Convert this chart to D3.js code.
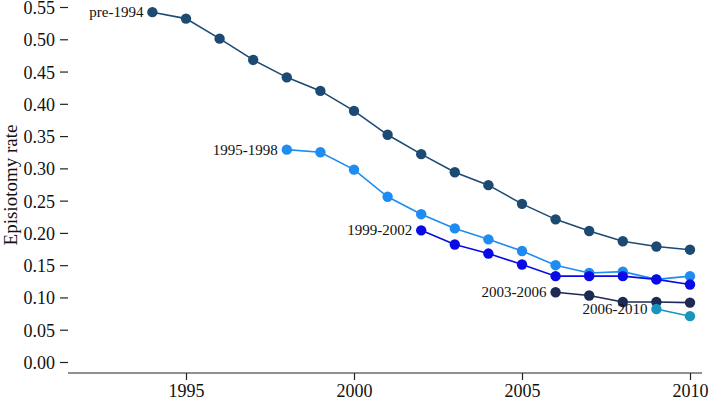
<!DOCTYPE html>
<html><head><meta charset="utf-8">
<script src="https://cdn.jsdelivr.net/npm/d3@7"></script>
<style>body{margin:0;background:#fff}svg{display:block;font-family:"Liberation Serif","Times New Roman",serif}</style>
</head><body><svg id="c" width="709" height="404"></svg>
<script>
const years = [1994,1995,1996,1997,1998,1999,2000,2001,2002,2003,2004,2005,2006,2007,2008,2009,2010];
const cohorts = ["pre-1994","1995-1998","1999-2002","2003-2006","2006-2010"];
const startYears = [1994,1998,2002,2006,2009];
const pre1994 = [0.542,0.532,0.501,0.468,0.441,0.420,0.389,0.352,0.322,0.294,0.274,0.245,0.221,0.203,0.187,0.179,0.174];
const c1995_1998 = [0.329,0.325,0.298,0.256,0.229,0.207,0.190,0.172,0.150,0.138,0.140,0.128,0.133];
const c1999_2002 = [0.204,0.182,0.168,0.151,0.133,0.133,0.133,0.128,0.120];
const c2003_2006 = [0.108,0.103,0.093,0.093,0.092];
const c2006_2010 = [0.082,0.071];
const seriesValues = [pre1994,c1995_1998,c1999_2002,c2003_2006,c2006_2010];
const colors = ["#1d4a73","#1e8cf0","#0a0ae6","#1c2a55","#1895bd"];
const yTicks = [0,0.05,0.10,0.15,0.20,0.25,0.30,0.35,0.40,0.45,0.50,0.55];
const xTicks = [1995,2000,2005,2010];

const svg = d3.select("#c");
const x = d3.scaleLinear().domain([1995,2010]).range([186,690]);
const y = d3.scaleLinear().domain([0,0.55]).range([362,7]);

// x axis
const xa = svg.append("g").attr("transform","translate(0,373)");
xa.append("line").attr("x1",68).attr("x2",702).attr("stroke","#222").attr("stroke-width",1.2);
const xg = xa.append("g").call(d3.axisBottom(x).tickValues(xTicks).tickFormat(d3.format("d")).tickSize(7).tickPadding(4));
xg.select(".domain").remove();
xg.selectAll("line").attr("stroke","#222").attr("stroke-width",1.2);
xg.selectAll("text").attr("font-size",18).attr("font-family","Liberation Serif").attr("fill","#111");

// y axis
const yg = svg.append("g").attr("transform","translate(68,0)")
  .call(d3.axisLeft(y).tickValues(yTicks).tickFormat(d3.format(".2f")).tickSize(8).tickPadding(5));
yg.select(".domain").remove();
yg.selectAll("line").attr("stroke","#222").attr("stroke-width",1.2);
yg.selectAll("text").attr("font-size",18).attr("font-family","Liberation Serif").attr("fill","#111").attr("dy","0.36em");

svg.append("text").attr("transform","translate(17,185) rotate(-90)").attr("text-anchor","middle")
  .attr("font-size",19).attr("fill","#111").text("Episiotomy rate");

const line = d3.line().x(d=>x(d[0])).y(d=>y(d[1]));
cohorts.forEach((name,i)=>{
  const pts = seriesValues[i].map((v,j)=>[startYears[i]+j, v]);
  const g = svg.append("g");
  g.append("path").datum(pts).attr("d",line).attr("fill","none").attr("stroke",colors[i]).attr("stroke-width",1.6);
  g.selectAll("circle").data(pts).join("circle").attr("cx",d=>x(d[0])).attr("cy",d=>y(d[1])).attr("r",5.2).attr("fill",colors[i]);
  g.append("text").attr("x",x(pts[0][0])-9).attr("y",y(pts[0][1])).attr("dy","0.33em")
    .attr("text-anchor","end").attr("font-size",15).attr("fill","#111").text(name);
});
</script></body></html>
